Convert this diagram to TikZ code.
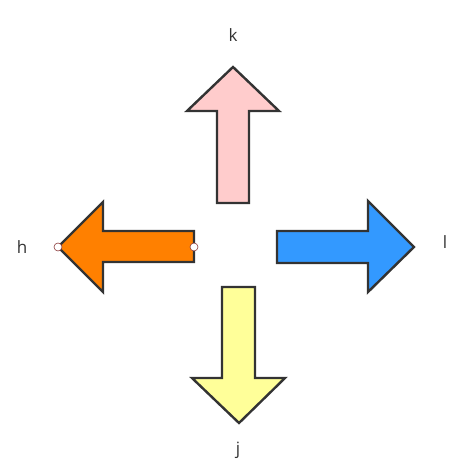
\documentclass[tikz,border=0pt]{standalone}
\usepackage{fontspec}
\setmainfont{Open Sans}
\definecolor{edge}{HTML}{333333}
\definecolor{upfill}{HTML}{FFCCCC}
\definecolor{leftfill}{HTML}{FF8000}
\definecolor{rightfill}{HTML}{3399FF}
\definecolor{downfill}{HTML}{FFFF99}
\definecolor{handle}{HTML}{8B3A3A}
\tikzset{
  blockarrow/.style={draw=edge, line width=2.4pt},
  keylabel/.style={text=edge, font=\fontsize{17}{20}\selectfont},
  handledot/.style={circle, draw=handle, fill=white, line width=0.6pt, inner sep=0pt, minimum size=8pt}
}
\begin{document}
\begin{tikzpicture}[x=1pt, y=-1pt]
    \useasboundingbox (0,0) rectangle (471,468);

    % the four block arrows
    \filldraw[blockarrow, fill=upfill] (217,203) -- (217,111) -- (187,111) -- (233,67)
        -- (279,111) -- (249,111) -- (249,203) -- cycle;
    \filldraw[blockarrow, fill=leftfill] (194,231) -- (103,231) -- (103,202) -- (58,247)
        -- (103,292) -- (103,262) -- (194,262) -- cycle;
    \filldraw[blockarrow, fill=rightfill] (277,231) -- (368,231) -- (368,201) -- (414,247)
        -- (368,292) -- (368,263) -- (277,263) -- cycle;
    \filldraw[blockarrow, fill=downfill] (222,287) -- (255,287) -- (255,378) -- (285,378)
        -- (239,423) -- (192,378) -- (222,378) -- cycle;

    % the selection handles of the left arrow
    \node[handledot] (htip) at (58,247) {};
    \node[handledot] (htail) at (194,247) {};

    % the texts
    \node[keylabel] (k) at (233,35) {k};
    \node[keylabel] (h) at (22,247) {h};
    \node[keylabel] (l) at (445,242) {l};
    \node[keylabel] (j) at (238,450) {j};

\end{tikzpicture}
\end{document}
